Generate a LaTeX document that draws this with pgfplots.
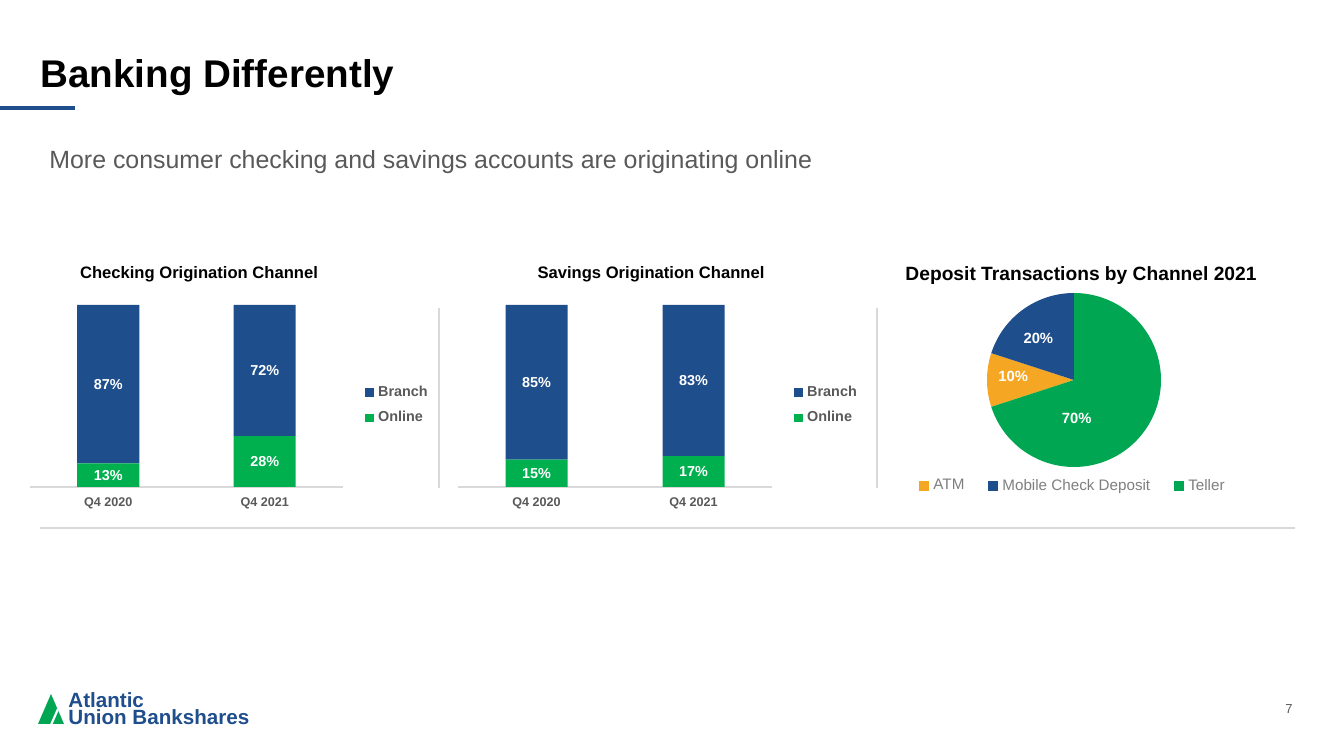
\documentclass[border=0pt]{standalone}
\usepackage{fontspec}
\setmainfont{Liberation Sans}
\usepackage{pgfplots}
\pgfplotsset{compat=1.18}
\definecolor{branchblue}{HTML}{1F4E8C}
\definecolor{onlinegreen}{HTML}{00B04F}
\definecolor{tellergreen}{HTML}{00A651}
\definecolor{atmorange}{HTML}{F5A623}
\definecolor{textgray}{HTML}{595959}
\definecolor{lightgraytext}{HTML}{7F7F7F}
\definecolor{rulegray}{HTML}{D9D9D9}
\newcommand{\fs}[1]{\fontsize{#1}{#1}\selectfont}
\pgfplotsset{
 barax/.style={
  scale only axis, width=156.5pt, height=91pt,
  xmin=-0.5, xmax=1.5, ymin=0, ymax=100,
  axis x line=bottom, axis y line=none,
  x axis line style={-, draw=rulegray, line width=0.8pt},
  xtick={0,1}, xticklabels={Q4 2020, Q4 2021},
  major tick length=0pt,
  xticklabel style={font=\bfseries\fs{6.3}, text=textgray, yshift=-2pt},
  ybar stacked, bar width=31pt,
  legend style={draw=none, fill=none, anchor=west, font=\bfseries\fs{7.2}, text=textgray, row sep=2pt},
  legend cell align=left, reverse legend,
  legend image code/.code={\fill[##1] (0pt,-2.2pt) rectangle (4.4pt,2.2pt);},
  clip=false,
 },
 labax/.style={
  scale only axis, width=156.5pt, height=91pt,
  xmin=-0.5, xmax=1.5, ymin=0, ymax=100, hide axis, clip=false,
  nodes near coords={\pgfmathprintnumber{\pgfplotspointmeta}\%},
  /pgf/number format/assume math mode=true,
  point meta=explicit,
  every node near coord/.style={anchor=center, font=\bfseries\fs{7.2}, text=white},
 },
}
\begin{document}
\begin{tikzpicture}[x=0.5pt, y=0.5pt, t/.style={inner sep=0pt}]
\fill[white] (0,0) rectangle (1333,749);
\useasboundingbox (0,0) rectangle (1333,749);
\coordinate (C1) at (30,262);
\coordinate (C2) at (458,262);
\coordinate (P1) at (987,282);
% header
\node[t, anchor=base west, font=\bfseries\fs{19.3}] at (40,661) {Banking Differently};
\draw[branchblue, line width=2pt] (0,641) -- (75,641);
\node[t, anchor=base west, font=\fs{12.45}, text=textgray] at (49,580) {More consumer checking and savings accounts are originating online};
% titles
\node[t, anchor=base, font=\bfseries\fs{8.3}] at (199,470) {Checking Origination Channel};
\node[t, anchor=base, font=\bfseries\fs{8.3}] at (651,470) {Savings Origination Channel};
\node[t, anchor=base, font=\bfseries\fs{9.6}] at (1081,468) {Deposit Transactions by Channel 2021};
% separators
\draw[rulegray, line width=0.7pt] (439,441) -- (439,261);
\draw[rulegray, line width=0.7pt] (877,441) -- (877,261);
\draw[rulegray, line width=0.7pt] (40,221) -- (1295,221);

% Checking
\begin{axis}[barax, at={(C1)}, anchor=south west, legend style={at={(1.051,0.449)}}]
\addplot[fill=onlinegreen, draw=none] coordinates {(0,13) (1,28)};
\addlegendentry{Online}
\addplot[fill=branchblue, draw=none] coordinates {(0,87) (1,72)};
\addlegendentry{Branch}
\end{axis}
\begin{axis}[labax, at={(C1)}, anchor=south west]
\addplot[draw=none] coordinates {(0,6.5) [13] (1,14) [28]};
\addplot[draw=none] coordinates {(0,56.5) [87] (1,64) [72]};
\end{axis}

% Savings
\begin{axis}[barax, at={(C2)}, anchor=south west, width=157pt, legend style={at={(1.051,0.449)}}]
\addplot[fill=onlinegreen, draw=none] coordinates {(0,15) (1,17)};
\addlegendentry{Online}
\addplot[fill=branchblue, draw=none] coordinates {(0,85) (1,83)};
\addlegendentry{Branch}
\end{axis}
\begin{axis}[labax, at={(C2)}, anchor=south west, width=157pt]
\addplot[draw=none] coordinates {(0,7.5) [15] (1,8.5) [17]};
\addplot[draw=none] coordinates {(0,57.5) [85] (1,58.5) [83]};
\end{axis}

% Pie
\def\vATM{10}\def\vMob{20}\def\vTel{70}
\pgfmathsetmacro\aTelS{90-3.6*\vTel}
\pgfmathsetmacro\aATMS{\aTelS-3.6*\vATM}
\pgfmathsetmacro\aMobS{90+3.6*\vMob}
\begin{axis}[at={(P1)}, anchor=south west, scale only axis, width=87pt, height=87pt,
  xmin=-1, xmax=1, ymin=-1, ymax=1, hide axis, clip=false,
  legend style={draw=none, fill=none, at={(0.5,-0.11)}, anchor=center, legend columns=3,
    font=\fs{7.6}, text=lightgraytext, /tikz/every even column/.append style={column sep=10pt}},
  legend image code/.code={\fill[#1] (0pt,-2.5pt) rectangle (5pt,2.5pt);}]
\addplot[fill=atmorange, draw=none, domain=\aATMS:\aTelS, samples=30] ({cos(x)},{sin(x)}) -- (0,0) -- cycle;
\addlegendentry{\strut ATM\hspace{2.5pt}}
\addplot[fill=branchblue, draw=none, domain=90:\aMobS, samples=40] ({cos(x)},{sin(x)}) -- (0,0) -- cycle;
\addlegendentry{\strut Mobile Check Deposit}
\addplot[fill=tellergreen, draw=none, domain=\aTelS:90, samples=120] ({cos(x)},{sin(x)}) -- (0,0) -- cycle;
\addlegendentry{\strut Teller}
\node[font=\bfseries\fs{7.4}, text=white] at (axis cs:-0.41,0.48) {20\%};
\node[font=\bfseries\fs{7.4}, text=white] at (axis cs:-0.70,0.04) {10\%};
\node[font=\bfseries\fs{7.4}, text=white] at (axis cs:0.03,-0.44) {70\%};
\end{axis}

% logo
\fill[tellergreen] (38,25) -- (51,55) -- (64,25) -- cycle;
\draw[white, line width=1.1pt] (51,24) -- (58,40);
\node[t, anchor=base west, font=\bfseries\fs{10.3}, text=branchblue] at (68,41) {Atlantic};
\node[t, anchor=base west, font=\bfseries\fs{10.3}, text=branchblue] at (68,24) {Union Bankshares};
\node[t, font=\fs{6.5}, text=textgray] at (1289,40) {7};
\end{tikzpicture}
\end{document}
